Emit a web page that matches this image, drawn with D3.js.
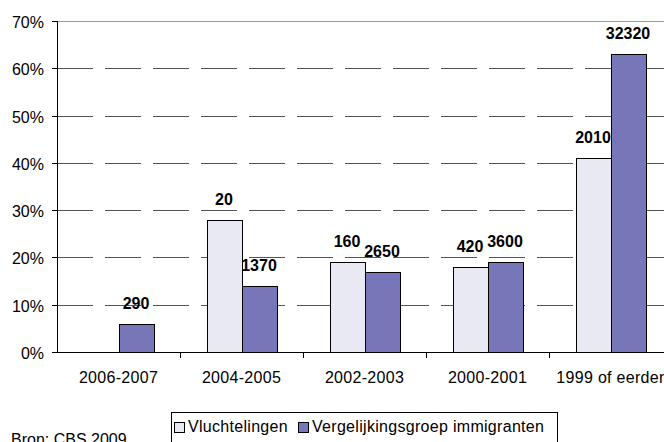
<!DOCTYPE html>
<html>
<head>
<meta charset="utf-8">
<script src="https://cdn.jsdelivr.net/npm/d3@7"></script>
<style>
  body { margin: 0; background: #fff; }
  svg { display: block; font-family: "Liberation Sans", Arial, sans-serif; }
</style>
</head>
<body>
<div id="chart"></div>
<script>
// categories and series (share of total, plus counts shown above bars)
const categories = ['2006-2007', '2004-2005', '2002-2003', '2000-2001', '1999 of eerder'];
const vluchtelingen = [null, 0.28, 0.19, 0.18, 0.41];
const vergelijking = [0.06, 0.14, 0.17, 0.19, 0.63];
const vluchtelingenCounts = ['', '20', '160', '420', '2010'];
const vergelijkingCounts = ['290', '1370', '2650', '3600', '32320'];
const yTicks = [0, 0.1, 0.2, 0.3, 0.4, 0.5, 0.6, 0.7];
const seriesNames = ['Vluchtelingen', 'Vergelijkingsgroep immigranten'];

const width = 664, height = 442;
const colors = ['#e9e9f4', '#7676b8'];

const svg = d3.select('#chart').append('svg')
  .attr('width', width)
  .attr('height', height);

// scales
const x = d3.scaleBand()
  .domain(categories)
  .range([57, 57 + 123 * categories.length])
  .padding(0);

const y = d3.scaleLinear()
  .domain([0, 0.7])
  .range([352, 21]);

const barW = 35;

// gridlines
svg.append('g').selectAll('line')
  .data(yTicks.filter(t => t > 0))
  .enter()
  .append('line')
  .attr('x1', 57)
  .attr('x2', width)
  .attr('y1', d => Math.round(y(d)) + 0.5)
  .attr('y2', d => Math.round(y(d)) + 0.5)
  .attr('stroke', d => d === 0.7 ? '#999' : '#555')
  .attr('stroke-width', 1)
  .attr('stroke-dasharray', d => d === 0.7 ? null : '36,12');

// bars
const series = [vluchtelingen, vergelijking];
const counts = [vluchtelingenCounts, vergelijkingCounts];

series.forEach((vals, si) => {
  const g = svg.append('g');
  categories.forEach((c, i) => {
    if (vals[i] == null) return;
    const cx = x(c) + x.bandwidth() / 2;
    const bx = si === 0 ? cx - barW : cx;
    g.append('rect')
      .attr('x', Math.round(bx) + 0.5)
      .attr('y', Math.round(y(vals[i])) + 0.5)
      .attr('width', barW)
      .attr('height', Math.round(y(0)) - Math.round(y(vals[i])))
      .attr('fill', colors[si])
      .attr('stroke', '#000')
      .attr('stroke-width', 1);
  });
});

// count labels
series.forEach((vals, si) => {
  categories.forEach((c, i) => {
    if (vals[i] == null || !counts[si][i]) return;
    const cx = x(c) + x.bandwidth() / 2;
    const lx = si === 0 ? cx - barW / 2 : cx + barW / 2;
    svg.append('text')
      .attr('x', lx)
      .attr('y', y(vals[i]) - 15)
      .attr('text-anchor', 'middle')
      .style('font-size', '16px')
      .style('font-weight', 'bold')
      .style('fill', '#000')
      .text(counts[si][i]);
  });
});

// axes
svg.append('line')
  .attr('x1', 57.5).attr('x2', 57.5)
  .attr('y1', 21).attr('y2', 353)
  .attr('stroke', '#000');

svg.append('line')
  .attr('x1', 52).attr('x2', width)
  .attr('y1', 352.5).attr('y2', 352.5)
  .attr('stroke', '#000');

// y ticks and labels
const yg = svg.append('g');
yTicks.forEach(t => {
  const ty = Math.round(y(t)) + 0.5;
  yg.append('line')
    .attr('x1', 52).attr('x2', 57)
    .attr('y1', ty).attr('y2', ty)
    .attr('stroke', '#000');
  yg.append('text')
    .attr('x', 44)
    .attr('y', ty + 6)
    .attr('text-anchor', 'end')
    .style('font-size', '16px')
    .style('fill', '#000')
    .text(d3.format('.0%')(t));
});

// x ticks at category boundaries
categories.forEach((c, i) => {
  if (i === 0) return;
  const tx = Math.round(x(c)) + 0.5;
  svg.append('line')
    .attr('x1', tx).attr('x2', tx)
    .attr('y1', 352).attr('y2', 358)
    .attr('stroke', '#000');
});

// x labels
categories.forEach(c => {
  svg.append('text')
    .attr('x', x(c) + x.bandwidth() / 2)
    .attr('y', 383)
    .attr('text-anchor', 'middle')
    .style('font-size', '16px')
    .style('letter-spacing', '0.3px')
    .style('fill', '#000')
    .text(c);
});

// legend
const legend = svg.append('g');
legend.append('rect')
  .attr('x', 171.5).attr('y', 412.5)
  .attr('width', 386).attr('height', 40)
  .attr('fill', '#fff')
  .attr('stroke', '#000');

const legendX = [174, 298];
seriesNames.forEach((name, i) => {
  legend.append('rect')
    .attr('x', legendX[i] + 0.5).attr('y', 422.5)
    .attr('width', 10).attr('height', 10)
    .attr('fill', colors[i])
    .attr('stroke', '#000');
  legend.append('text')
    .attr('x', legendX[i] + 14)
    .attr('y', 432)
    .style('font-size', '16px')
    .style('letter-spacing', '0.3px')
    .style('fill', '#000')
    .text(name);
});

// source (cut off at the bottom edge, as in the original)
svg.append('text')
  .attr('x', 11)
  .attr('y', 445)
  .style('font-size', '16px')
  .style('fill', '#000')
  .text('Bron: CBS 2009');
</script>
</body>
</html>
